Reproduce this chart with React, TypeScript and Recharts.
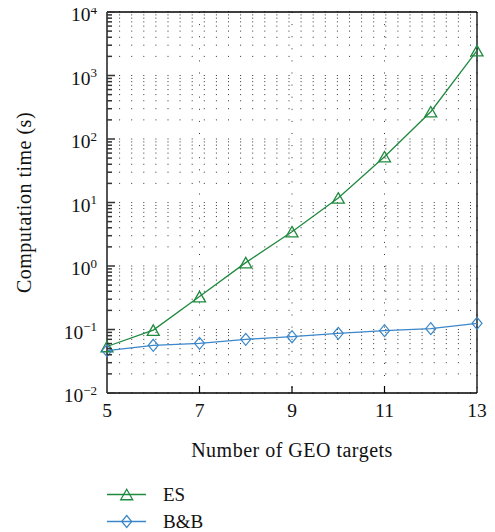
import React from 'react';
import {
  LineChart,
  Line,
  XAxis,
  YAxis,
  CartesianGrid,
  Legend,
  ReferenceLine,
} from 'recharts';

// Number of GEO targets on the x axis
const targetCounts = [5, 6, 7, 8, 9, 10, 11, 12, 13];
// Computation time in seconds, exhaustive search
const esSeconds = [0.054, 0.098, 0.33, 1.13, 3.47, 11.8, 52.6, 269, 2460];
// Computation time in seconds, branch and bound
const bbSeconds = [0.0464, 0.0564, 0.0605, 0.07, 0.077, 0.087, 0.096, 0.103, 0.125];

const xTicks = [5, 7, 9, 11, 13];
const decadeTicks = [0.01, 0.1, 1, 10, 100, 1000, 10000];
const decadeExponents = ['\u22122', '\u22121', '0', '1', '2', '3', '4'];
const minorMultipliers = [2, 3, 4, 5, 6, 7, 8, 9];

const seriesNames = ['ES', 'B&B'];
const ES_COLOR = '#1f8a3f';
const BB_COLOR = '#3b87c9';
const FONT = '"Liberation Serif", "Times New Roman", serif';

const rows = targetCounts.map((n, i) => ({ n, es: esSeconds[i], bb: bbSeconds[i] }));

const yTicks: number[] = [];
decadeTicks.forEach((d, i) => {
  yTicks.push(d);
  if (i < decadeTicks.length - 1) minorMultipliers.forEach((m) => yTicks.push(m * d));
});

const decadeIndex = (v: number) =>
  decadeTicks.findIndex((d) => Math.abs(d - v) / d < 1e-9);

const Triangle = ({ cx, cy, color }: { cx: number; cy: number; color: string }) => {
  const w = 12;
  const h = 10.5;
  return (
    <path
      d={`M${cx},${cy - h / 2} L${cx + w / 2},${cy + h / 2} L${cx - w / 2},${cy + h / 2} Z`}
      fill="none"
      stroke={color}
      strokeWidth={1.3}
    />
  );
};

const Diamond = ({ cx, cy, color }: { cx: number; cy: number; color: string }) => {
  const w = 10;
  const h = 12;
  return (
    <path
      d={`M${cx},${cy - h / 2} L${cx + w / 2},${cy} L${cx},${cy + h / 2} L${cx - w / 2},${cy} Z`}
      fill="none"
      stroke={color}
      strokeWidth={1.2}
    />
  );
};

const YTick = (props: any) => {
  const { x, y, payload } = props;
  const idx = decadeIndex(payload.value);
  const major = idx >= 0;
  return (
    <g>
      <line x1={x} x2={x + (major ? 8 : 5)} y1={y} y2={y} stroke="#333" strokeWidth={1.5} />
      {major && (
        <text
          x={x - 10}
          y={y + 9}
          textAnchor="end"
          fontFamily={FONT}
          fontSize={19.5}
          fill="#111"
        >
          <tspan>10</tspan>
          <tspan dy={-7.5} fontSize={13}>
            {decadeExponents[idx]}
          </tspan>
        </text>
      )}
    </g>
  );
};

const XTick = (props: any) => {
  const { x, y, payload } = props;
  const inner = payload.value !== xTicks[0] && payload.value !== xTicks[xTicks.length - 1];
  return (
    <g>
      {inner && <line x1={x} x2={x} y1={y} y2={y - 7} stroke="#000" strokeWidth={1.2} />}
      <text x={x} y={y + 24} textAnchor="middle" fontFamily={FONT} fontSize={19.5} fill="#111">
        {payload.value}
      </text>
    </g>
  );
};

const XTitle = (props: any) => {
  const { viewBox } = props;
  return (
    <text
      x={viewBox.x + viewBox.width / 2}
      y={viewBox.y + 64}
      textAnchor="middle"
      fontFamily={FONT}
      fontSize={20}
      letterSpacing={0.5}
      fill="#111"
    >
      Number of GEO targets
    </text>
  );
};

const YTitle = (props: any) => {
  const { viewBox } = props;
  const x = viewBox.x + 12.5;
  const y = viewBox.y + viewBox.height / 2;
  return (
    <text
      x={x}
      y={y}
      transform={`rotate(-90, ${x}, ${y})`}
      textAnchor="middle"
      fontFamily={FONT}
      fontSize={20}
      letterSpacing={0.5}
      fill="#111"
    >
      Computation time (s)
    </text>
  );
};

const LegendBox = () => (
  <div style={{ height: 54, paddingLeft: 107, fontFamily: FONT, fontSize: 19, color: '#111' }}>
    {seriesNames.map((name, i) => {
      const color = i === 0 ? ES_COLOR : BB_COLOR;
      return (
        <div key={name} style={{ height: 27, display: 'flex', alignItems: 'center' }}>
          <svg width={40} height={27} style={{ display: 'block' }}>
            <line x1={0} x2={39} y1={13.5} y2={13.5} stroke={color} strokeWidth={1.3} />
            {i === 0 ? (
              <Triangle cx={19.7} cy={13.5} color={color} />
            ) : (
              <Diamond cx={19.7} cy={13.5} color={color} />
            )}
          </svg>
          <span style={{ marginLeft: 16 }}>{name}</span>
        </div>
      );
    })}
  </div>
);

export default function App() {
  return (
    <div style={{ margin: '-8px 0 0 -8px', width: 495, height: 532 }}>
      <LineChart
        width={495}
        height={532}
        data={rows}
        margin={{ top: 12, right: 18, left: 18, bottom: 8 }}
      >
        <CartesianGrid stroke="#333" strokeWidth={1} strokeDasharray="1 11.1" />
        <XAxis
          dataKey="n"
          type="number"
          domain={[5, 13]}
          ticks={xTicks}
          height={77}
          tickSize={0}
          tickMargin={0}
          tickLine={false}
          axisLine={{ stroke: '#000', strokeWidth: 1.3 }}
          tick={<XTick />}
          interval={0}
          label={<XTitle />}
        />
        <YAxis
          type="number"
          scale="log"
          domain={[0.01, 10000]}
          ticks={yTicks}
          width={89}
          tickSize={0}
          tickMargin={0}
          tickLine={false}
          axisLine={{ stroke: '#555', strokeWidth: 2 }}
          tick={<YTick />}
          interval={0}
          label={<YTitle />}
        />
        <ReferenceLine y={10000} stroke="#000" strokeWidth={1.3} />
        <ReferenceLine x={13} stroke="#000" strokeWidth={1.3} />
        <Line
          dataKey="es"
          name="ES"
          stroke={ES_COLOR}
          strokeWidth={1.3}
          isAnimationActive={false}
          dot={(p: any) => <Triangle key={`es-${p.index}`} cx={p.cx} cy={p.cy} color={ES_COLOR} />}
        />
        <Line
          dataKey="bb"
          name="B&B"
          stroke={BB_COLOR}
          strokeWidth={1.3}
          isAnimationActive={false}
          dot={(p: any) => <Diamond key={`bb-${p.index}`} cx={p.cx} cy={p.cy} color={BB_COLOR} />}
        />
        <Legend
          verticalAlign="bottom"
          align="left"
          content={<LegendBox />}
          wrapperStyle={{ top: 481, left: 0, bottom: 'auto' }}
        />
      </LineChart>
    </div>
  );
}
